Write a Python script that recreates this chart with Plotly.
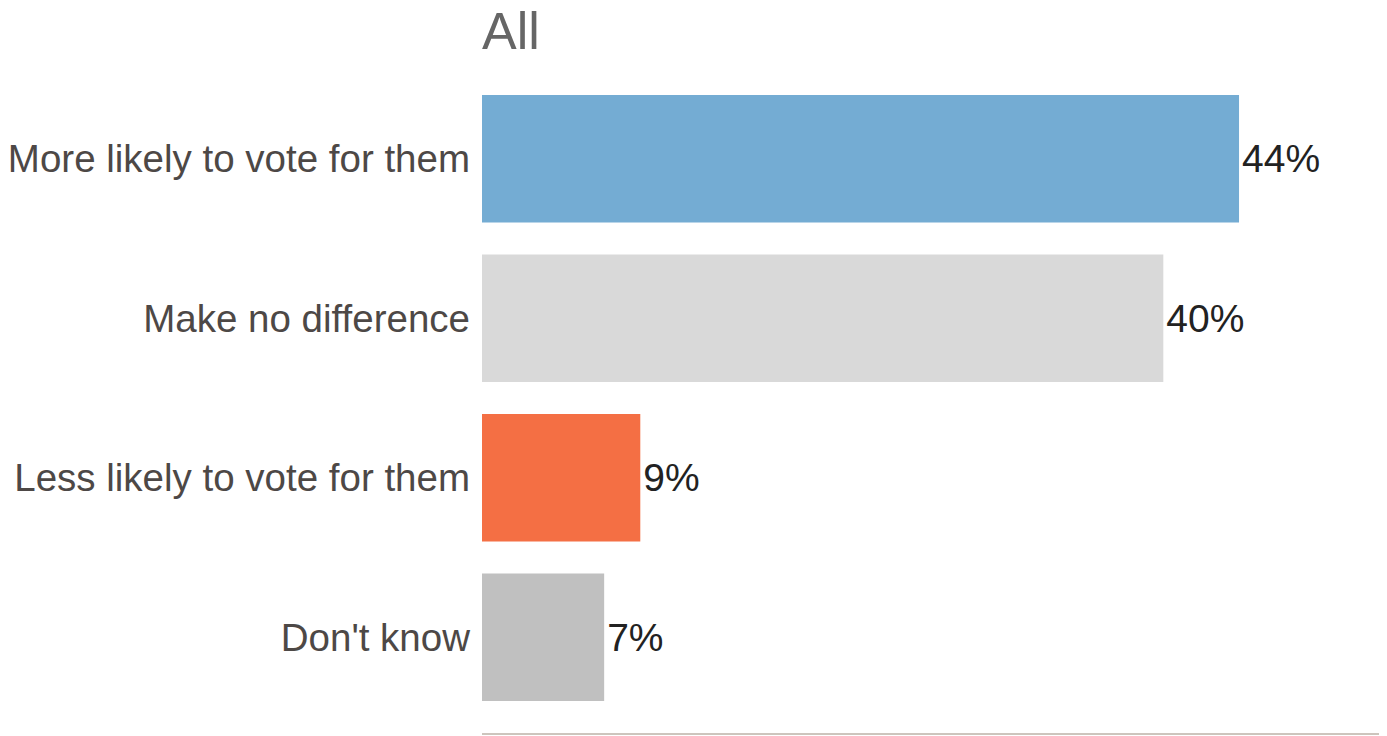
import plotly.graph_objects as go

categories = ["More likely to vote for them", "Make no difference",
              "Less likely to vote for them", "Don't know"]
values = [44.0, 39.6, 9.2, 7.1]
labels = ["44%", "40%", "9%", "7%"]
colors = ["#74acd3", "#d9d9d9", "#f46f44", "#c0c0c0"]

fig = go.Figure(go.Bar(
    y=categories, x=values, orientation="h",
    marker=dict(color=colors, line=dict(width=0)),
    text=labels, textposition="outside", cliponaxis=False,
    constraintext="none",
    textfont=dict(family="Liberation Sans, Arial", size=39, color="#222222"),
    width=0.8, hoverinfo="skip",
))

fig.update_layout(
    width=1387, height=736,
    margin=dict(l=474, r=8, t=71, b=11, autoexpand=False),
    paper_bgcolor="white", plot_bgcolor="white",
    showlegend=False,
    title=dict(text="All", x=474/1387, xanchor="left", xref="container",
               y=1-23/736, yanchor="middle", yref="container",
               font=dict(family="Liberation Sans, Arial", size=52, color="#666666")),
    font=dict(family="Liberation Sans, Arial"),
)
fig.update_xaxes(range=[0, 52.6], showgrid=False, zeroline=False,
                 showticklabels=False, showline=True, linecolor="#cdc5bd",
                 linewidth=2, ticks="", automargin=False)
fig.update_yaxes(categoryorder="array", categoryarray=categories,
                 range=[3.6, -0.5], showgrid=False, zeroline=False,
                 showline=False, ticks="", ticklabelstandoff=11, automargin=False,
                 tickfont=dict(family="Liberation Sans, Arial", size=38.5, color="#4d4846"))

fig.write_html("out.html")
